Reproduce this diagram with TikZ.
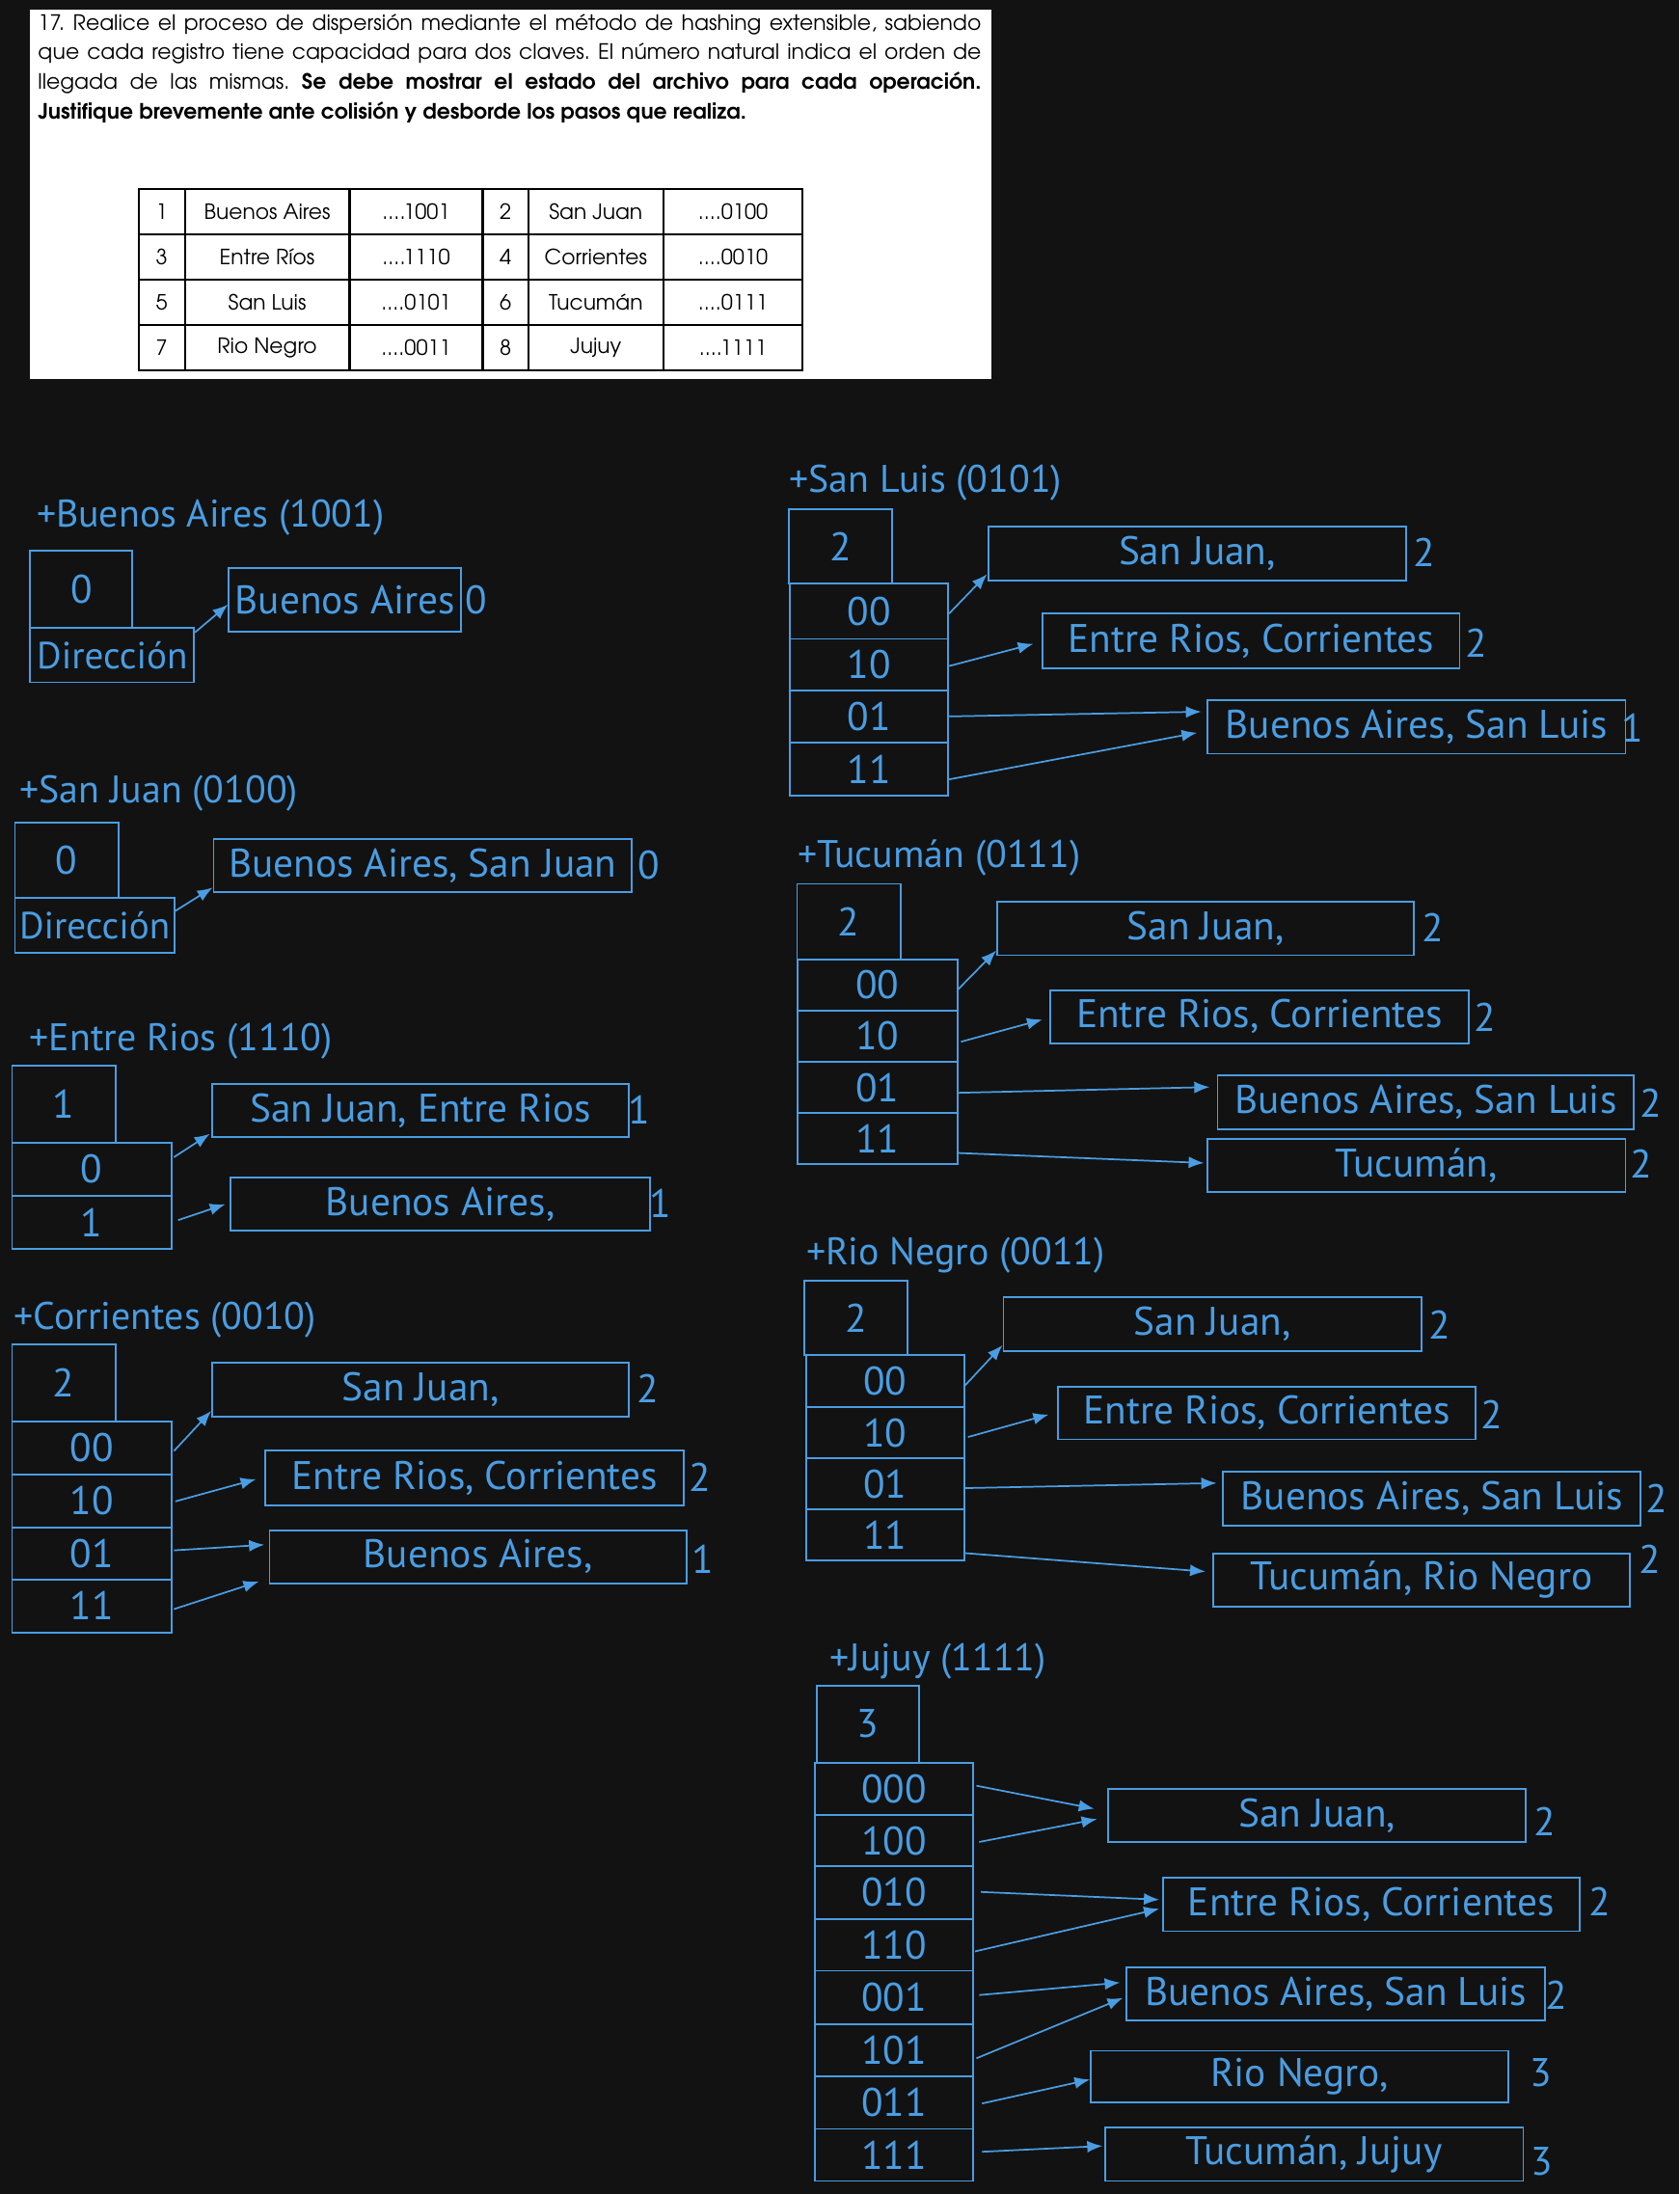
\documentclass[tikz,border=0pt]{standalone}
\usepackage{fontspec}
\setmainfont{PT Sans}
\newfontfamily\gothic{TeX Gyre Adventor}
\usetikzlibrary{calc,arrows.meta}
\definecolor{bg}{HTML}{121212}
\definecolor{blu}{RGB}{74,157,226}
\newcommand\handsz{\fontsize{28.5}{31}\selectfont}
\newcommand\ttlsz{\fontsize{27.5}{30}\selectfont}
\newcommand\dirsz{\fontsize{27}{30}\selectfont}
\newcommand\qsz{\gothic\fontsize{15.1}{17}\selectfont\frenchspacing}
\newcommand\tsz{\gothic\fontsize{15}{17}\selectfont}
\newcommand\fourdots{....}
\begin{document}
\begin{tikzpicture}[x=1pt,y=-1pt,
  bx/.style n args={2}{draw=blu, line width=1.3pt, text=blu, font=\handsz, inner sep=0pt,
     anchor=north west, minimum width=#1pt, minimum height=#2pt},
  lbl/.style={text=blu, font=\handsz, inner sep=0pt},
  ttl/.style={text=blu, font=\ttlsz, inner sep=0pt, anchor=west},
  arr/.style={draw=blu, line width=1.2pt, -{Latex[length=11pt,width=8.5pt]}},
  cell/.style={draw=black, line width=1.6pt, font=\tsz, inner sep=0pt,
     anchor=north west, minimum width=#1pt, minimum height=32.5pt},
  qline/.style={font=\qsz, inner sep=0pt, anchor=west}]
\useasboundingbox (0,0) rectangle (1200,1568);
\fill[bg] (0,0) rectangle (1200,1568);

% ---------- statement box ----------
\node[fill=white, inner sep=0pt, anchor=north west, minimum width=687pt, minimum height=264pt] (qbox) at (21,7) {};
\node[qline] (q1) at (27,17.5) {\makebox[674pt][s]{17. Realice el proceso de dispersión mediante el método de hashing extensible, sabiendo}};
\node[qline] (q2) at (27,38.5) {\makebox[674pt][s]{que cada registro tiene capacidad para dos claves. El número natural indica el orden de}};
\node[qline] (q3) at (27,59.5) {\makebox[674pt][s]{llegada de las mismas. \textbf{Se debe mostrar el estado del archivo para cada operación.}}};
\node[qline] (q4) at (27,80.5) {\textbf{Justifique brevemente ante colisión y desborde los pasos que realiza.}};

% table
\foreach \r/\y/\a/\b/\c/\d/\e/\f in {
  1/134.4/1/Buenos Aires/\fourdots1001/2/San Juan/\fourdots0100,
  2/166.7/3/Entre Ríos/\fourdots1110/4/Corrientes/\fourdots0010,
  3/199.0/5/San Luis/\fourdots0101/6/Tucumán/\fourdots0111,
  4/231.3/7/Rio Negro/\fourdots0011/8/Jujuy/\fourdots1111}{
  \node[cell=33] (t\r a) at (98.3,\y) {\a};
  \node[cell=117.7] (t\r b) at (131.3,\y) {\b};
  \node[cell=95.2] (t\r c) at (249,\y) {\c};
  \node[cell=32.6] (t\r d) at (344.2,\y) {\d};
  \node[cell=96.4] (t\r e) at (376.8,\y) {\e};
  \node[cell=99.6] (t\r f) at (473.2,\y) {\f};
}

% ---------- 1: Buenos Aires ----------
\node[ttl] (s1t) at (26,370) {+Buenos Aires (1001)};
\node[bx={73}{55}] (s1g) at (21,393) {0};
\node[bx={117}{39}, font=\dirsz] (s1d) at (21,448) {Dirección};
\node[bx={166}{46}] (s1b) at (163,405) {Buenos Aires};
\node[lbl] (s1l) at (340,429) {0};
\draw[arr] ($(s1d.north east)+(0,4)$) -- ($(s1b.north west)+(0,27)$);

% ---------- 2: San Juan ----------
\node[ttl] (s2t) at (14,567) {+San Juan (0100)};
\node[bx={74}{54}] (s2g) at (10,587) {0};
\node[bx={114}{39}, font=\dirsz] (s2d) at (10,641) {Dirección};
\node[bx={299}{38}] (s2b) at (152,599) {Buenos Aires, San Juan};
\node[lbl] (s2l) at (464,618) {0};
\draw[arr] ($(s2d.north east)+(0,10)$) -- ($(s2b.south west)+(0,-4)$);

% ---------- 3: Entre Rios ----------
\node[ttl] (s3t) at (21,744) {+Entre Rios (1110)};
\node[bx={74}{55}] (s3g) at (8,761) {1};
\node[bx={114}{38}] (s3r0) at (8,816) {0};
\node[bx={114}{38}] (s3r1) at (8,854) {1};
\node[bx={298}{38}] (s3a) at (151,774) {San Juan, Entre Rios};
\node[lbl] (s3la) at (457,793) {1};
\node[bx={300}{38}] (s3b) at (164,841) {Buenos Aires,};
\node[lbl] (s3lb) at (472,860) {1};
\draw[arr] ($(s3r0.north east)+(1,11)$) -- ($(s3a.south west)+(-1,-3)$);
\draw[arr] ($(s3r1.north east)+(4,18)$) -- ($(s3b.west)+(-3,0)$);

% ---------- 4: Corrientes ----------
\node[ttl] (s4t) at (10,943) {+Corrientes (0010)};
\node[bx={74}{55}] (s4g) at (8,960) {2};
\node[bx={114}{38}] (s4r00) at (8,1015) {00};
\node[bx={114}{38}] (s4r10) at (8,1053) {10};
\node[bx={114}{37}] (s4r01) at (8,1091) {01};
\node[bx={114}{38}] (s4r11) at (8,1128) {11};
\node[bx={298}{39}] (s4a) at (151,973) {San Juan,};
\node[lbl] (s4la) at (463,992) {2};
\node[bx={299}{39}] (s4b) at (189,1036) {Entre Rios, Corrientes};
\node[lbl] (s4lb) at (500,1056) {2};
\node[bx={298}{38}] (s4c) at (192,1093) {Buenos Aires,};
\node[lbl] (s4lc) at (502,1114) {1};
\draw[arr] ($(s4r00.north east)+(1,22)$) -- ($(s4a.south west)+(0,-5)$);
\draw[arr] ($(s4r10.north east)+(2,20)$) -- ($(s4b.west)+(-6,1)$);
\draw[arr] ($(s4r01.north east)+(1,17)$) -- ($(s4c.north west)+(-3,11)$);
\draw[arr] ($(s4r11.north east)+(1,22)$) -- ($(s4c.south west)+(-7,-2)$);

% ---------- 5: San Luis ----------
\node[ttl] (s5t) at (564,345) {+San Luis (0101)};
\node[bx={74}{53}] (s5g) at (563,363.5) {2};
\node[bx={113}{39.5}] (s5r00) at (564,416.5) {00};
\node[bx={113}{37}] (s5r10) at (564,456) {10};
\node[bx={113}{37}] (s5r01) at (564,493) {01};
\node[bx={113}{38}] (s5r11) at (564,530) {11};
\node[bx={299}{38.5}] (s5a) at (705.5,375.5) {San Juan,};
\node[lbl] (s5la) at (1018,395) {2};
\node[bx={298}{39}] (s5b) at (744.5,438) {Entre Rios, Corrientes};
\node[lbl] (s5lb) at (1055,459.5) {2};
\node[bx={298.5}{38}] (s5c) at (862.5,500) {Buenos Aires, San Luis};
\node[lbl] (s5lc) at (1167,520) {1};
\draw[arr] ($(s5r00.north east)+(0,22)$) -- ($(s5a.south west)+(0,-5)$);
\draw[arr] ($(s5r10.north east)+(0,20)$) -- ($(s5b.west)+(-6,2)$);
\draw[arr] ($(s5r01.north east)+(0,19)$) -- ($(s5c.west)+(-4,-11)$);
\draw[arr] ($(s5r11.north east)+(0,27)$) -- ($(s5c.west)+(-7,4)$);

% ---------- 6: Tucuman ----------
\node[ttl] (s6t) at (570,613) {+Tucumán (0111)};
\node[bx={74}{54}] (s6g) at (569,631) {2};
\node[bx={114}{36.5}] (s6r00) at (569.5,685) {00};
\node[bx={114}{36.5}] (s6r10) at (569.5,721.5) {10};
\node[bx={114}{37}] (s6r01) at (569.5,758) {01};
\node[bx={114}{36.5}] (s6r11) at (569.5,795) {11};
\node[bx={298}{38}] (s6a) at (712,644) {San Juan,};
\node[lbl] (s6la) at (1024,663) {2};
\node[bx={299}{38}] (s6b) at (750,707) {Entre Rios, Corrientes};
\node[lbl] (s6lb) at (1061,727) {2};
\node[bx={297.5}{38.5}] (s6c) at (869.5,768) {Buenos Aires, San Luis};
\node[lbl] (s6lc) at (1180,788) {2};
\node[bx={298.5}{38}] (s6d) at (862.5,813.5) {Tucumán,};
\node[lbl] (s6ld) at (1173,832) {2};
\draw[arr] ($(s6r00.north east)+(0,22)$) -- ($(s6a.south west)+(0,-4)$);
\draw[arr] ($(s6r10.north east)+(2,23)$) -- ($(s6b.west)+(-5,2)$);
\draw[arr] ($(s6r01.north east)+(0,23)$) -- ($(s6c.west)+(-5,-11)$);
\draw[arr] ($(s6r11.north east)+(0,29)$) -- ($(s6d.west)+(-2,-2)$);

% ---------- 7: Rio Negro ----------
\node[ttl] (s7t) at (576,897) {+Rio Negro (0011)};
\node[bx={74}{53.5}] (s7g) at (574,914.5) {2};
\node[bx={113}{37}] (s7r00) at (575.5,968) {00};
\node[bx={113}{36.5}] (s7r10) at (575.5,1005) {10};
\node[bx={113}{36.5}] (s7r01) at (575.5,1041.5) {01};
\node[bx={113}{36.5}] (s7r11) at (575.5,1078) {11};
\node[bx={298.5}{38.5}] (s7a) at (716.5,926.5) {San Juan,};
\node[lbl] (s7la) at (1029,947) {2};
\node[bx={298.5}{37.5}] (s7b) at (755.5,990.5) {Entre Rios, Corrientes};
\node[lbl] (s7lb) at (1066,1011) {2};
\node[bx={298.5}{38.5}] (s7c) at (873.5,1051) {Buenos Aires, San Luis};
\node[lbl] (s7lc) at (1184,1071) {2};
\node[bx={297.5}{38}] (s7d) at (866.5,1109.5) {Tucumán, Rio Negro};
\node[lbl] (s7ld) at (1179,1114) {2};
\draw[arr] ($(s7r00.north east)+(0,22)$) -- ($(s7a.south west)+(0,-5)$);
\draw[arr] ($(s7r10.north east)+(2,22)$) -- ($(s7b.west)+(-6,1)$);
\draw[arr] ($(s7r01.north east)+(0,22)$) -- ($(s7c.west)+(-4,-11)$);
\draw[arr] ($(s7r11.north east)+(0,32)$) -- ($(s7d.west)+(-5,-6)$);

% ---------- 8: Jujuy ----------
\node[ttl] (s8t) at (593,1187) {+Jujuy (1111)};
\node[bx={73}{55}] (s8g) at (583,1204) {3};
\node[bx={112.5}{37.2}] (s8r000) at (582,1259.2) {000};
\node[bx={112.5}{36.7}] (s8r100) at (582,1296.4) {100};
\node[bx={112.5}{37.5}] (s8r010) at (582,1333.1) {010};
\node[bx={112.5}{37.2}] (s8r110) at (582,1370.6) {110};
\node[bx={112.5}{38.2}] (s8r001) at (582,1407.8) {001};
\node[bx={112.5}{37.3}] (s8r101) at (582,1446) {101};
\node[bx={112.5}{37.5}] (s8r011) at (582,1483.3) {011};
\node[bx={112.5}{37.2}] (s8r111) at (582,1520.8) {111};
\node[bx={299}{38}] (s8a) at (791,1278) {San Juan,};
\node[lbl] (s8la) at (1104,1302) {2};
\node[bx={297.5}{38}] (s8b) at (830.5,1341.5) {Entre Rios, Corrientes};
\node[lbl] (s8lb) at (1143,1359) {2};
\node[bx={299}{37.5}] (s8c) at (804.5,1405.5) {Buenos Aires, San Luis};
\node[lbl] (s8lc) at (1112,1426) {2};
\node[bx={298}{37}] (s8d) at (779,1465) {Rio Negro,};
\node[lbl] (s8ld) at (1101,1481) {3};
\node[bx={299}{38}] (s8e) at (789,1520) {Tucumán, Jujuy};
\node[lbl] (s8le) at (1102,1545) {3};
\draw[arr] ($(s8r000.north east)+(2,17)$) -- ($(s8a.west)+(-9,-5)$);
\draw[arr] ($(s8r100.north east)+(4,20)$) -- ($(s8a.west)+(-7,2.4)$);
\draw[arr] ($(s8r010.north east)+(5,19)$) -- ($(s8b.west)+(-2,-3.5)$);
\draw[arr] ($(s8r110.north east)+(1,24)$) -- ($(s8b.west)+(-2,3)$);
\draw[arr] ($(s8r001.north east)+(4,18)$) -- ($(s8c.west)+(-4,-8)$);
\draw[arr] ($(s8r101.north east)+(2,25)$) -- ($(s8c.west)+(-2,3)$);
\draw[arr] ($(s8r011.north east)+(6,20)$) -- ($(s8d.west)+(0,2)$);
\draw[arr] ($(s8r111.north east)+(6,17)$) -- ($(s8e.west)+(-1,-6)$);
\end{tikzpicture}
\end{document}
